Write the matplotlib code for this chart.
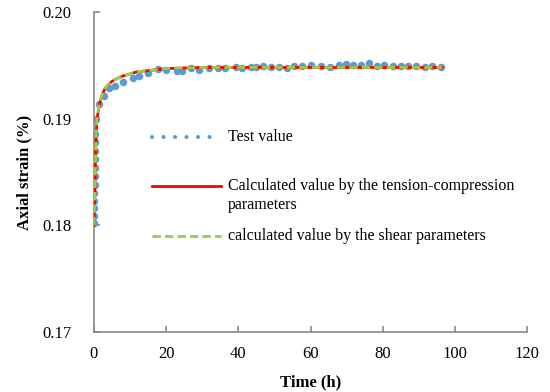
import matplotlib
matplotlib.use("Agg")
import matplotlib.pyplot as plt
from matplotlib.lines import Line2D

plt.rcParams['font.family'] = ['Liberation Serif', 'DejaVu Serif']

# test data
test_t = [0.0, 0.03, 0.06, 0.09, 0.12, 0.15, 0.18, 0.21, 0.25, 0.3, 0.35, 0.4, 0.47,
          1.4, 2.8, 4.2, 5.8, 8.1, 10.7, 12.5, 15.0, 17.6, 20.0, 22.9, 24.5,
          27.0, 29.1, 31.9, 34.3, 36.3, 39.3, 40.9, 43.4, 44.9, 46.9, 49.0,
          51.2, 53.4, 55.4, 57.6, 60.1, 62.8, 65.4, 67.9, 69.8, 71.8, 73.9,
          76.2, 78.3, 80.4, 82.9, 85.0, 87.1, 89.2, 91.6, 93.7, 96.3]
test_v = [0.1802, 0.1809, 0.1816, 0.1823, 0.1830, 0.1838, 0.1846, 0.1854, 0.1862,
          0.1870, 0.1878, 0.1886, 0.1900,
          0.1914, 0.19215, 0.19285, 0.1931, 0.1934, 0.19385, 0.1940, 0.1943,
          0.1947, 0.19456, 0.1945, 0.1945,
          0.19472, 0.19456, 0.19472, 0.19472, 0.19478, 0.19481, 0.19472,
          0.19481, 0.19487, 0.19494, 0.19487, 0.19481, 0.19472, 0.19494,
          0.19494, 0.19500, 0.19494, 0.19487, 0.19503, 0.19509, 0.19500,
          0.19503, 0.19518, 0.19497, 0.19503, 0.19494, 0.19494, 0.19494,
          0.19494, 0.19487, 0.19494, 0.19481]

# calculated curves
calc_t = [0, 0.1, 0.25, 0.5, 0.75, 1, 1.5, 2, 3, 4, 5, 6, 8, 10, 12, 15, 20,
          25, 30, 40, 50, 60, 70, 80, 90, 96.5]
tc_v = [0.1800, 0.1812, 0.1832, 0.1875, 0.1895, 0.1903, 0.1913, 0.1920,
        0.1928, 0.1932, 0.1935, 0.1937, 0.1940, 0.1942, 0.1944, 0.1945,
        0.1947, 0.19475, 0.1948, 0.1948, 0.1948, 0.1948, 0.1948, 0.1948,
        0.1948, 0.1948]
sh_v = [0.1800, 0.1812, 0.1832, 0.1876, 0.1896, 0.1904, 0.1914, 0.1920,
        0.1928, 0.1932, 0.1935, 0.1937, 0.1940, 0.1942, 0.1944, 0.1945,
        0.1947, 0.19475, 0.1948, 0.1948, 0.1948, 0.1948, 0.1948, 0.1948,
        0.1948, 0.1948]

blue = '#5B9BD5'
red = '#FF0000'
green = '#92D050'
grey = '#898989'

fig = plt.figure(figsize=(5.5, 3.92), dpi=100)
ax = fig.add_axes([94 / 550, 60 / 392, 433 / 550, 320 / 392])

ax.plot(test_t, test_v, 'o', color=blue, ms=5.4, mec='none', zorder=2)
ax.plot(calc_t, tc_v, '-', color=red, lw=2.0, zorder=3)
ax.plot(calc_t, sh_v, color=green, lw=2.0, dashes=(3.0, 1.5), zorder=4)

ax.set_xlim(0, 120)
ax.set_ylim(0.17, 0.20)
ax.set_xticks([0, 20, 40, 60, 80, 100, 120])
ax.set_yticks([0.17, 0.18, 0.19, 0.20])
ax.set_yticklabels(['0.17', '0.18', '0.19', '0.20'])

for s in ['top', 'right']:
    ax.spines[s].set_visible(False)
for s in ['left', 'bottom']:
    ax.spines[s].set_color(grey)
    ax.spines[s].set_linewidth(1.2)
ax.tick_params(axis='both', direction='in', length=4, width=1.2, color=grey,
               labelsize=12)
ax.tick_params(axis='y', pad=16)
ax.tick_params(axis='x', pad=10)

ax.set_xlabel('Time (h)', fontsize=12, fontweight='bold', labelpad=9)
ax.set_ylabel('Axial strain (%)', fontsize=12, fontweight='bold', labelpad=7)

# legend, drawn like the Excel one
lx0, lx1 = (152 - 94) / 433, (221 - 94) / 433
tx = (228 - 94) / 433
def yf(py):
    return (332 - py) / 320

ax.add_line(Line2D([lx0, lx1], [yf(137)] * 2, transform=ax.transAxes,
                   color=blue, lw=3.0, linestyle=(0, (0.01, 2.75)),
                   dash_capstyle='round'))
ax.text(tx, yf(137), 'Test value', transform=ax.transAxes, va='center',
        fontsize=11.5)
ax.add_line(Line2D([lx0, lx1], [yf(186)] * 2, transform=ax.transAxes,
                   color=red, lw=2.0))
ax.text(tx, yf(195.5), 'Calculated value by the tension-compression\nparameters',
        transform=ax.transAxes, va='center', fontsize=11.5, linespacing=1.2)
ax.add_line(Line2D([lx0, lx1], [yf(236)] * 2, transform=ax.transAxes,
                   color=green, lw=2.0, dashes=(3.0, 1.5)))
ax.text(tx, yf(236), 'calculated value by the shear parameters',
        transform=ax.transAxes, va='center', fontsize=11.5)

fig.savefig('out.png', dpi=100)
